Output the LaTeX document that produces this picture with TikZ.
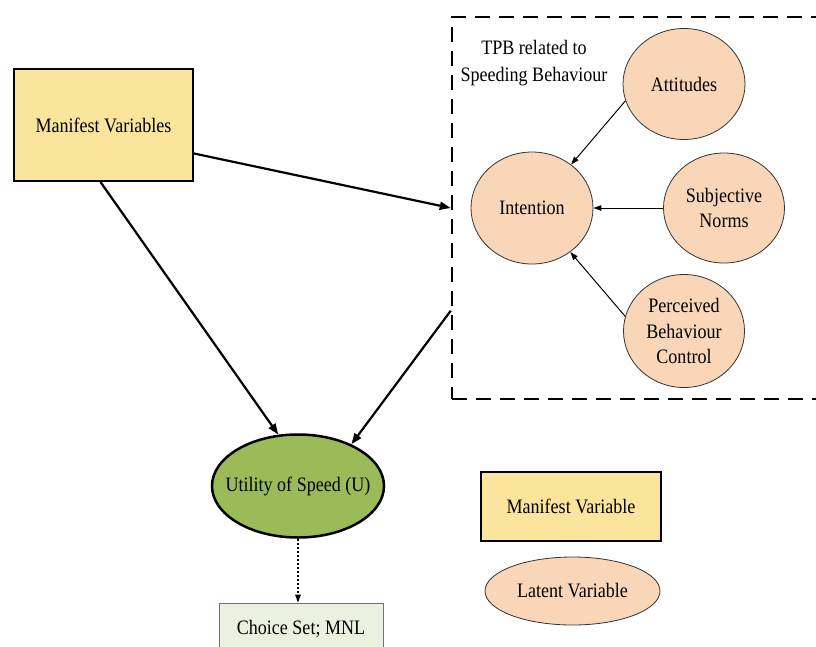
\documentclass[tikz,border=0pt]{standalone}
\usepackage{fontspec}
\setmainfont[FakeStretch=0.88]{Liberation Serif}
\usetikzlibrary{arrows.meta,calc,shapes.geometric}
\definecolor{mvyellow}{HTML}{FBE49B}
\definecolor{peach}{HTML}{FAD6B8}
\definecolor{ugreen}{HTML}{9BBB59}
\definecolor{cspale}{HTML}{EBF1DE}
\definecolor{csborder}{HTML}{6F6F6F}
\tikzset{
  mvbox/.style={draw=black, line width=2pt, fill=mvyellow, rectangle, inner sep=0pt, align=center},
  latent/.style={draw=black!80, line width=0.8pt, fill=peach, ellipse, inner sep=0pt},
  utilnode/.style={draw=black, line width=2.5pt, fill=ugreen, ellipse, inner sep=0pt},
  inlabel/.style={label={[align=center]center:#1}},
  csbox/.style={draw=csborder, line width=0.8pt, fill=cspale, rectangle, inner sep=0pt, align=center},
  tpbbox/.style={draw=black, line width=2.5pt, dash pattern=on 15pt off 9pt, rectangle, inner sep=0pt},
  bigarrow/.style={line width=2.2pt, -{Triangle[length=11pt,width=8pt]}},
  smallarrow/.style={line width=1pt, -{Triangle[length=8pt,width=5.5pt]}},
  dotarrow/.style={line width=1.2pt, dash pattern=on 2pt off 2pt, -{Triangle[length=8pt,width=5.5pt]}}
}
\begin{document}
\begin{tikzpicture}[x=1pt,y=-1pt, font=\fontsize{20.5}{25.5}\selectfont]
\useasboundingbox (0,0) rectangle (816,646);
\clip (0,0) rectangle (816,646);

\node[mvbox, minimum width=179pt, minimum height=112pt] (mv) at (103.5,125) {Manifest Variables};

\node[tpbbox, minimum width=380pt, minimum height=382pt] (tpb) at (642,208) {};
\node[align=center, font=\fontsize{20.5}{26.5}\selectfont] (tpbl) at (534,63) {TPB related to\\Speeding Behaviour};

\node[latent, minimum width=122pt, minimum height=111pt, inlabel={Attitudes}] (att) at (684,84) {};
\node[latent, minimum width=122pt, minimum height=112pt, inlabel={Intention}] (int) at (532,208) {};
\node[latent, minimum width=121pt, minimum height=110pt, inlabel={Subjective\\Norms}] (sn) at (724,208) {};
\node[latent, minimum width=121pt, minimum height=113pt, inlabel={Perceived\\Behaviour\\Control}] (pbc) at (684,331) {};

\node[utilnode, minimum width=172pt, minimum height=103pt, inlabel={Utility of Speed (U)}] (u) at (298,486) {};
\node[csbox, minimum width=164pt, minimum height=52pt] (cs) at (301,629) {Choice Set; MNL};

\node[mvbox, minimum width=180pt, minimum height=69pt] (lmv) at (571,506.5) {Manifest Variable};
\node[latent, minimum width=175pt, minimum height=68pt, inlabel={Latent Variable}] (llv) at (572.5,591) {};

\coordinate (mvout) at ($(mv.south east)!0.25!(mv.north east)$);
\coordinate (tpbout) at ($(tpb.south west)!0.233!(tpb.north west)$);

\draw[bigarrow] (mvout) -- (tpb.west);
\draw[bigarrow] ([xshift=-3pt]mv.south) -- (u.111);
\draw[bigarrow] (tpbout) -- (u.38);

\draw[smallarrow] (att.196) -- (int.48);
\draw[smallarrow] (sn.west) -- (int.east);
\draw[smallarrow] (pbc.166) -- (int.311);

\draw[dotarrow] (u.south) -- (u.south |- cs.north);
\end{tikzpicture}
\end{document}
